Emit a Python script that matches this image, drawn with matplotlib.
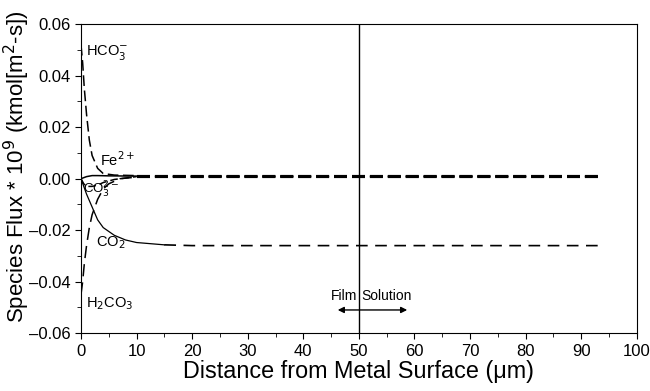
import numpy as np
import matplotlib.pyplot as plt
from matplotlib.ticker import MultipleLocator

plt.rcParams['font.family'] = ['Liberation Sans', 'DejaVu Sans']

# species flux profiles (x in um, flux * 1e9)
x_hco3 = [0, 0.3, 0.6, 1, 1.5, 2, 3, 4, 6, 10, 20, 40, 60, 80, 93]
y_hco3 = [0.052, 0.045, 0.035, 0.025, 0.015, 0.009, 0.004, 0.002, 0.0014, 0.0012, 0.0012, 0.0012, 0.0012, 0.0012, 0.0012]

x_fe = [0, 1, 2, 3, 5, 10, 20, 40, 60, 80, 93]
y_fe = [0.0, 0.0008, 0.0012, 0.0012, 0.0011, 0.001, 0.001, 0.001, 0.001, 0.001, 0.001]

x_co3 = [0, 0.5, 1, 2, 3, 4, 6, 10, 20, 40, 60, 80, 93]
y_co3 = [0.0, -0.002, -0.003, -0.003, -0.0025, -0.0015, -0.0003, 0.0008, 0.0008, 0.0008, 0.0008, 0.0008, 0.0008]

x_co2 = [0, 0.5, 1, 2, 3, 4, 6, 8, 10, 15, 20, 30, 50, 70, 93]
y_co2 = [0.0, -0.003, -0.006, -0.011, -0.016, -0.019, -0.022, -0.0238, -0.0248, -0.0257, -0.026, -0.026, -0.026, -0.026, -0.026]

x_h2co3 = [0, 0.3, 0.6, 1, 1.5, 2, 2.5, 3, 4, 5, 7, 10, 20, 40, 60, 80, 93]
y_h2co3 = [-0.045, -0.040, -0.033, -0.026, -0.019, -0.014, -0.011, -0.008, -0.004, -0.002, 0.0, 0.0006, 0.0006, 0.0006, 0.0006, 0.0006, 0.0006]

film_edge = 50
merge_x = 10     # beyond here the near-zero profiles overlap
co2_merge_x = 15

fig = plt.figure(figsize=(6.5, 3.91), dpi=100)
ax = fig.add_axes([0.1246, 0.148, 0.855, 0.79])

tail_dash = (0, (6.2, 2.4))


def draw(x, y, head_ls, split, tail_ls, lw_head=1.1, lw_tail=1.5):
    x = np.asarray(x, float)
    y = np.asarray(y, float)
    h = x <= split
    t = x >= split
    ax.plot(x[h], y[h], color='black', lw=lw_head, ls=head_ls)
    ax.plot(x[t], y[t], color='black', lw=lw_tail, ls=tail_ls)


draw(x_hco3, y_hco3, (0, (7, 3)), merge_x, tail_dash)
draw(x_fe, y_fe, '-', merge_x, tail_dash)
draw(x_co3, y_co3, (0, (5, 2.5)), merge_x, tail_dash)
draw(x_h2co3, y_h2co3, (0, (8, 4)), merge_x, tail_dash)
draw(x_co2, y_co2, '-', co2_merge_x, (0, (7, 4.5)), lw_head=0.9, lw_tail=1.2)

ax.axvline(film_edge, color='black', lw=1)

ax.text(0.9, 0.049, r'HCO$_3^{-}$', fontsize=10.5, va='center')
ax.text(3.4, 0.0075, r'Fe$^{2+}$', fontsize=10.5, va='center')
ax.text(0.4, -0.0045, r'CO$_3^{2-}$', fontsize=9.5, va='center')
ax.text(2.7, -0.0249, r'CO$_2$', fontsize=10.5, va='center')
ax.text(0.9, -0.0485, r'H$_2$CO$_3$', fontsize=10.5, va='center')

ax.text(film_edge - 0.3, -0.0455, 'Film', fontsize=10, ha='right', va='center')
ax.text(film_edge + 0.4, -0.0455, 'Solution', fontsize=10, ha='left', va='center')
ax.annotate('', xy=(45.7, -0.051), xytext=(59.2, -0.051),
            arrowprops=dict(arrowstyle='<|-|>', color='black', lw=1, mutation_scale=9))

ax.set_xlim(0, 100)
ax.set_ylim(-0.06, 0.06)
ax.xaxis.set_major_locator(MultipleLocator(10))
ax.xaxis.set_minor_locator(MultipleLocator(5))
ax.yaxis.set_major_locator(MultipleLocator(0.02))
ax.yaxis.set_minor_locator(MultipleLocator(0.01))
ax.yaxis.set_major_formatter(plt.FuncFormatter(lambda v, p: f'{v:.2f}'.replace('-', '\u2013')))
ax.tick_params(which='both', direction='out', labelsize=12)
ax.tick_params(which='major', length=4)
ax.tick_params(which='minor', length=3)

ax.set_xlabel('Distance from Metal Surface (\u03bcm)', fontsize=16.8, labelpad=1)
ax.set_ylabel('Species Flux * 10$^9$ (kmol[m$^2$-s])', fontsize=16)
ax.yaxis.set_label_coords(-0.089, 0.54)

fig.savefig('out.png', dpi=100)
